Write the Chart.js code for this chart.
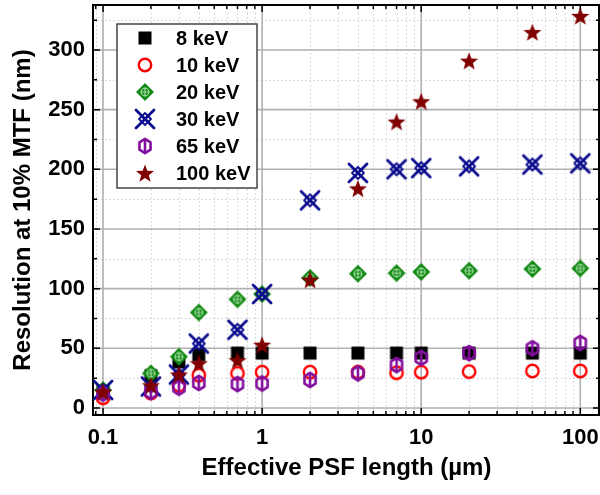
<!DOCTYPE html>
<html lang="en">
  <head>
    <meta charset="UTF-8" />
    <title>Resolution vs PSF length</title>
    <script src="https://cdn.jsdelivr.net/npm/chart.js"></script>
    <style>
      body { margin: 0; background: #fff; }
      #wrap { width: 600px; height: 495px; }
    </style>
  </head>
  <body>
    <div id="wrap"><canvas id="mtfChart"></canvas></div>
  </body>

  <script>
    // values
    const psfLength = [0.1, 0.2, 0.3, 0.4, 0.7, 1, 2, 4, 7, 10, 20, 50, 100];
    const res8 = [14, 27, 38.5, 44.5, 46, 46, 46, 46, 46, 46, 46, 46, 46];
    const res10 = [8.5, 12.5, 19, 27.5, 29, 30, 30, 30, 29.5, 30, 30.5, 31, 31];
    const res20 = [15, 29, 43, 80, 91, 95.5, 109, 112.5, 113, 114, 115, 116.5, 117];
    const res30 = [15, 18, 28, 54, 65.5, 95.5, 174, 197, 200, 201, 202.5, 204, 205];
    const res65 = [12, 13.5, 17, 21, 20, 20.5, 23.5, 29, 36, 42, 46, 50, 54.5];
    const res100 = [13.5, 19, 28, 37.5, 40, 53, 107.5, 184, 240, 257, 291, 315, 328.5];
    const seriesLabels = ["8 keV", "10 keV", "20 keV", "30 keV", "65 keV", "100 keV"];
    const xTicks = [0.1, 1, 10, 100];
    const yTicks = [0, 50, 100, 150, 200, 250, 300];

    const FONT = "'Liberation Sans', Arial, sans-serif";

    function makeMarker(kind, color) {
      const c = document.createElement("canvas");
      c.width = 24;
      c.height = 24;
      const g = c.getContext("2d");
      const m = 12;
      g.strokeStyle = color;
      g.fillStyle = color;
      g.lineJoin = "round";
      if (kind === "square") {
        g.fillRect(m - 6.5, m - 6.5, 13, 13);
      } else if (kind === "circle") {
        g.lineWidth = 2.4;
        g.beginPath();
        g.arc(m, m, 6.2, 0, Math.PI * 2);
        g.stroke();
      } else if (kind === "diamond") {
        g.beginPath();
        g.moveTo(m, m - 9);
        g.lineTo(m + 9, m);
        g.lineTo(m, m + 9);
        g.lineTo(m - 9, m);
        g.closePath();
        g.fill();
        g.strokeStyle = "#9fd89f";
        g.lineWidth = 1.2;
        g.beginPath();
        g.arc(m, m, 3.8, 0, Math.PI * 2);
        g.moveTo(m - 4.8, m);
        g.lineTo(m + 4.8, m);
        g.moveTo(m, m - 4.8);
        g.lineTo(m, m + 4.8);
        g.stroke();
      } else if (kind === "xcross") {
        g.lineWidth = 2.8;
        g.lineCap = "round";
        g.beginPath();
        g.moveTo(m - 9, m - 9);
        g.lineTo(m + 9, m + 9);
        g.moveTo(m + 9, m - 9);
        g.lineTo(m - 9, m + 9);
        g.stroke();
        g.lineWidth = 1.8;
        g.beginPath();
        g.moveTo(m, m - 6);
        g.lineTo(m + 6, m);
        g.lineTo(m, m + 6);
        g.lineTo(m - 6, m);
        g.closePath();
        g.stroke();
      } else if (kind === "hexbar") {
        g.lineWidth = 2.6;
        g.beginPath();
        for (let i = 0; i < 6; i++) {
          const a = -Math.PI / 2 + (i * Math.PI) / 3;
          const px = m + 6.4 * Math.cos(a);
          const py = m + 7.2 * Math.sin(a);
          if (i === 0) g.moveTo(px, py);
          else g.lineTo(px, py);
        }
        g.closePath();
        g.stroke();
        g.beginPath();
        g.moveTo(m, m - 7);
        g.lineTo(m, m + 7);
        g.stroke();
      } else if (kind === "star") {
        g.beginPath();
        for (let i = 0; i < 10; i++) {
          const r = i % 2 === 0 ? 9.5 : 4;
          const a = -Math.PI / 2 + (i * Math.PI) / 5;
          const px = m + r * Math.cos(a);
          const py = m + 1 + r * Math.sin(a);
          if (i === 0) g.moveTo(px, py);
          else g.lineTo(px, py);
        }
        g.closePath();
        g.fill();
      }
      return c;
    }

    const markers = [
      makeMarker("square", "#000000"),
      makeMarker("circle", "#ff0000"),
      makeMarker("diamond", "#138a13"),
      makeMarker("xcross", "#0c0c8f"),
      makeMarker("hexbar", "#820f9e"),
      makeMarker("star", "#800000"),
    ];
    const seriesData = [res8, res10, res20, res30, res65, res100];

    const datasets = seriesData.map((vals, i) => ({
      label: seriesLabels[i],
      data: psfLength.map((x, j) => ({ x: x, y: vals[j] })),
      showLine: false,
      pointStyle: markers[i],
      pointRadius: 8,
      order: 5 - i,
    }));

    function noPad(s) {
      s.paddingTop = 0;
      s.paddingBottom = 0;
      s.paddingLeft = 0;
      s.paddingRight = 0;
    }

    // grid, frame and inward ticks (Origin style)
    const framePlugin = {
      id: "frame",
      beforeDatasetsDraw(chart) {
        const { ctx, chartArea: a } = chart;
        const xs = chart.scales.x;
        const ys = chart.scales.y;
        const minorX = [0.09];
        xTicks.forEach((d) => {
          for (let k = 2; k <= 9; k++) minorX.push(d * k);
        });
        const minorY = [];
        for (let v = 25; v < ys.max; v += 50) minorY.push(v);
        ctx.save();
        ctx.lineWidth = 1;
        ctx.strokeStyle = "#cfcfcf";
        ctx.setLineDash([1.5, 2.5]);
        ctx.beginPath();
        minorX.forEach((v) => {
          if (v < xs.min || v > xs.max) return;
          const px = Math.round(xs.getPixelForValue(v)) + 0.5;
          ctx.moveTo(px, a.top);
          ctx.lineTo(px, a.bottom);
        });
        minorY.forEach((v) => {
          const py = Math.round(ys.getPixelForValue(v)) + 0.5;
          ctx.moveTo(a.left, py);
          ctx.lineTo(a.right, py);
        });
        ctx.stroke();
        ctx.setLineDash([]);
        ctx.strokeStyle = "#b0b0b0";
        ctx.lineWidth = 1.6;
        ctx.beginPath();
        xTicks.forEach((v) => {
          const px = xs.getPixelForValue(v);
          ctx.moveTo(px, a.top);
          ctx.lineTo(px, a.bottom);
        });
        yTicks.forEach((v) => {
          const py = ys.getPixelForValue(v);
          ctx.moveTo(a.left, py);
          ctx.lineTo(a.right, py);
        });
        ctx.stroke();
        // ticks
        ctx.strokeStyle = "#000";
        ctx.lineWidth = 1.5;
        ctx.beginPath();
        const tickX = (v, len) => {
          const px = xs.getPixelForValue(v);
          ctx.moveTo(px, a.bottom);
          ctx.lineTo(px, a.bottom - len);
          ctx.moveTo(px, a.top);
          ctx.lineTo(px, a.top + len);
        };
        const tickY = (v, len) => {
          const py = ys.getPixelForValue(v);
          ctx.moveTo(a.left, py);
          ctx.lineTo(a.left + len, py);
          ctx.moveTo(a.right, py);
          ctx.lineTo(a.right - len, py);
        };
        xTicks.forEach((v) => tickX(v, 7));
        minorX.forEach((v) => {
          if (v >= xs.min && v <= xs.max) tickX(v, 4);
        });
        yTicks.forEach((v) => tickY(v, 7));
        minorY.forEach((v) => tickY(v, 4));
        ctx.stroke();
        ctx.lineWidth = 2;
        ctx.strokeRect(a.left, a.top, a.right - a.left - 1, a.bottom - a.top);
        ctx.restore();
      },
      afterDraw(chart) {
        // legend box inside the plot
        const { ctx, chartArea: a } = chart;
        const bx = a.left + 24;
        const by = a.top + 19;
        ctx.save();
        ctx.fillStyle = "#fff";
        ctx.fillRect(bx, by, 140, 164);
        ctx.strokeStyle = "#444";
        ctx.lineWidth = 1.5;
        ctx.strokeRect(bx, by, 140, 164);
        ctx.font = "bold 20px " + FONT;
        ctx.fillStyle = "#000";
        ctx.textBaseline = "middle";
        seriesLabels.forEach((lab, i) => {
          const cy = by + 14 + i * 27;
          ctx.drawImage(markers[i], bx + 28 - 12, cy - 12);
          ctx.fillText(lab, bx + 59, cy + 1);
        });
        ctx.restore();
      },
    };

    const ctx = document.getElementById("mtfChart").getContext("2d");
    new Chart(ctx, {
      type: "scatter",
      data: { datasets: datasets },
      options: {
        responsive: true,
        maintainAspectRatio: false,
        animation: false,
        layout: { autoPadding: false, padding: { top: 5, right: 0, left: 0, bottom: 0 } },
        scales: {
          x: {
            type: "logarithmic",
            min: 0.0865,
            max: 133,
            grid: { display: false, drawTicks: false },
            border: { display: false },
            afterFit: (s) => { s.height = 80; noPad(s); },
            afterBuildTicks: (s) => { s.ticks = xTicks.map((v) => ({ value: v })); },
            ticks: {
              padding: 10,
              maxRotation: 0,
              color: "#000",
              font: { family: FONT, size: 22, weight: "bold" },
              callback: (v) => String(v),
            },
            title: {
              display: true,
              text: "Effective PSF length (µm)",
              color: "#000",
              font: { family: FONT, size: 24, weight: "bold" },
              padding: { top: 0, bottom: 12 },
            },
          },
          y: {
            min: -5.9,
            max: 337.7,
            grid: { display: false, drawTicks: false },
            border: { display: false },
            afterFit: (s) => { s.width = 93; noPad(s); },
            afterBuildTicks: (s) => { s.ticks = yTicks.map((v) => ({ value: v })); },
            ticks: {
              padding: 8,
              color: "#000",
              font: { family: FONT, size: 22, weight: "bold" },
            },
            title: {
              display: true,
              text: "Resolution at 10% MTF (nm)",
              color: "#000",
              font: { family: FONT, size: 24, weight: "bold" },
              padding: { top: 9, bottom: 0 },
            },
          },
        },
        plugins: {
          legend: { display: false },
          tooltip: { enabled: false },
        },
      },
      plugins: [framePlugin],
    });
  </script>
</html>
